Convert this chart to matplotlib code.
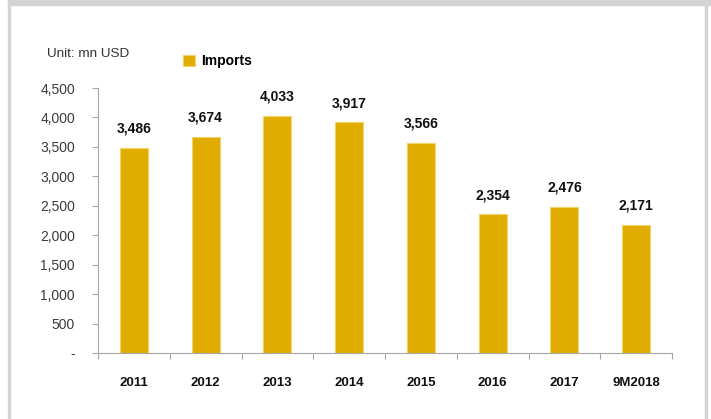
import matplotlib.pyplot as plt
from matplotlib.patches import Rectangle

plt.rcParams['font.family'] = ['Liberation Sans', 'DejaVu Sans']

# Imports by year, mn USD
years = ['2011', '2012', '2013', '2014', '2015', '2016', '2017', '9M2018']
imports = [3486, 3674, 4033, 3917, 3566, 2354, 2476, 2171]
yticks = [0, 500, 1000, 1500, 2000, 2500, 3000, 3500, 4000, 4500]
ytick_labels = ['-', '500', '1,000', '1,500', '2,000', '2,500', '3,000', '3,500', '4,000', '4,500']

W, H = 711, 419
bar_color = '#E0AC00'
axis_color = '#A6A6A6'

fig = plt.figure(figsize=(W / 100, H / 100), dpi=100)
ax = fig.add_axes([98 / W, 66 / H, (672 - 98) / W, (353 - 88) / H])

x = range(len(years))
bars = ax.bar(x, imports, width=0.39, color=bar_color, edgecolor='#F3D46A',
              linewidth=0.8, label='Imports')

for xi, v in zip(x, imports):
    ax.annotate(f'{v:,}', (xi, v), xytext=(0, 11), textcoords='offset points',
                ha='center', va='baseline', fontsize=10, fontweight='bold',
                color='#111111')

ax.set_xlim(-0.5, len(years) - 0.5)
ax.set_ylim(0, 4500)
ax.set_yticks(yticks)
ax.set_yticklabels(ytick_labels)
ax.set_xticks(x)
ax.set_xticklabels(years, fontweight='bold', fontsize=9.5, color='#111111')
ax.set_xticks([i - 0.5 for i in range(len(years) + 1)], minor=True)
ax.tick_params(axis='x', which='major', length=0, pad=17)
ax.tick_params(axis='x', which='minor', length=4.5, color=axis_color, width=0.8)
ax.tick_params(axis='y', length=4.5, color=axis_color, width=0.8, pad=12,
               labelsize=10, labelcolor='#3A3A3A')

for side in ['top', 'right']:
    ax.spines[side].set_visible(False)
for side in ['left', 'bottom']:
    ax.spines[side].set_color(axis_color)
    ax.spines[side].set_linewidth(0.8)

fig.text(47 / W, 1 - 54 / H, 'Unit: mn USD', fontsize=9.7, va='center',
         ha='left', color='#333333')

ax.legend(loc='center left', bbox_to_anchor=(183 / W, 1 - 61 / H),
          bbox_transform=fig.transFigure, frameon=False, borderpad=0,
          borderaxespad=0, handlelength=0.85, handleheight=0.85,
          handletextpad=0.45, prop={'weight': 'bold', 'size': 10})

# frame around the chart
frame = '#D3D3D3'
fig.patches.append(Rectangle((8 / W, 0), 2 / W, 1, transform=fig.transFigure,
                             color=frame, zorder=0))
fig.patches.append(Rectangle((8 / W, 1 - 5 / H), 1, 5 / H,
                             transform=fig.transFigure, color=frame, zorder=0))
fig.patches.append(Rectangle((705 / W, 0), 2 / W, 1, transform=fig.transFigure,
                             color=frame, zorder=0))

fig.savefig('out.png', dpi=100)
